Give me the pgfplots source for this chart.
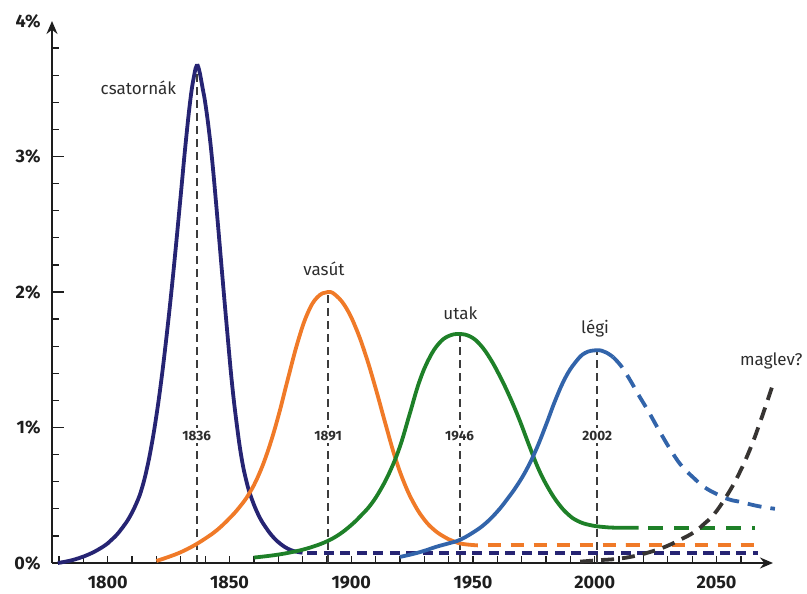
\documentclass[border=0pt]{standalone}
\usepackage{fontspec}
\setmainfont{Fira Sans}
\usepackage{pgfplots}
\pgfplotsset{compat=1.18}
\usetikzlibrary{arrows.meta}

\definecolor{canal}{RGB}{38,36,115}
\definecolor{rail}{RGB}{240,122,40}
\definecolor{road}{RGB}{30,128,40}
\definecolor{air}{RGB}{50,100,170}
\definecolor{mag}{RGB}{55,52,50}
\definecolor{guide}{RGB}{60,60,60}
\definecolor{axisc}{RGB}{30,30,30}
\definecolor{txt}{RGB}{45,45,45}

\begin{document}
\begin{tikzpicture}
\begin{axis}[
  scale only axis, width=721pt, height=542pt,
  xmin=1777.1, xmax=2073.2, ymin=0, ymax=4,
  axis lines=left,
  axis line style={line width=1.6pt, draw=axisc},
  every outer x axis line/.append style={-{Stealth[length=13pt,width=11pt]}},
  every outer y axis line/.append style={-{Stealth[length=13pt,width=11pt]}},
  clip=false,
  tick align=inside,
  major tick length=12pt, minor tick length=7pt,
  tick style={line width=1.3pt, draw=axisc},
  xtick={1800,1850,1900,1950,2000,2050},
  xticklabels={1800,1850,1900,1950,2000,2050},
  minor xtick={1780,1790,1800,1810,1820,1830,1840,1850,1860,1870,1880,1890,1900,1910,1920,1930,1940,1950,1960,1970,1980,1990,2000,2010,2020,2030,2040,2050,2060},
  major x tick style={draw=none},
  ytick={0,1,2,3},
  yticklabels={0\%,1\%,2\%,3\%},
  extra y ticks={4}, extra y tick labels={4\%},
  extra y tick style={major tick length=0pt},
  minor ytick={0.2,0.4,0.6,0.8,1.2,1.4,1.6,1.8,2.2,2.4,2.6,2.8,3.2,3.4,3.6,3.8},
  xticklabel style={font=\fontsize{18}{18}\selectfont\bfseries, text=axisc, yshift=-10pt},
  yticklabel style={font=\fontsize{18}{18}\selectfont\bfseries, text=axisc, xshift=-8pt},
  /pgf/number format/assume math mode=true,
  guide/.style={draw=guide, line width=2pt, dash pattern=on 8pt off 5pt},
  curve/.style={line width=3.8pt, smooth, tension=0.7, line cap=butt},
]
\coordinate (ll) at (rel axis cs:0,0);
\coordinate (ur) at (rel axis cs:1,1);

% guide lines at the peaks
\addplot[guide] coordinates {(1836.5,0) (1836.5,3.66)};
\addplot[guide] coordinates {(1890.5,0) (1890.5,2.00)};
\addplot[guide] coordinates {(1944.5,0) (1944.5,1.69)};
\addplot[guide] coordinates {(2001,0) (2001,1.57)};

% dashed tails
\addplot[curve, canal, dash pattern=on 10pt off 6.5pt] coordinates {(1882,0.074) (2067,0.074)};
\addplot[curve, rail, dash pattern=on 13pt off 10pt] coordinates {(1956,0.13) (2067,0.13)};
\addplot[curve, road, dash pattern=on 15pt off 11pt] coordinates {(2022,0.26) (2066,0.26)};

% canals
\addplot[curve, canal] coordinates {
(1779.5,0.000) (1784,0.015) (1788,0.035) (1792,0.062) (1796,0.098) (1800,0.145)
(1803,0.195) (1806,0.26) (1809,0.34) (1812,0.45) (1814,0.55) (1816,0.69)
(1818,0.87) (1820,1.09) (1822,1.35) (1824,1.65) (1826,1.98) (1828,2.34)
(1830,2.72) (1832,3.10) (1834,3.43) (1835.5,3.60) (1836.5,3.67) (1837.5,3.64)
(1839,3.50) (1840,3.40) (1841.5,3.20) (1843,2.95) (1845,2.55) (1847,2.13)
(1849,1.72) (1851,1.33) (1853,1.02) (1855,0.77) (1857,0.60) (1859,0.48)
(1862,0.35) (1865,0.26) (1868,0.19) (1871,0.14) (1874,0.105) (1877,0.085)
(1880,0.076)};

% railways
\addplot[curve, rail] coordinates {
(1820,0.015) (1825,0.045) (1830,0.08) (1835,0.125) (1840,0.18) (1845,0.245)
(1850,0.33) (1854,0.41) (1858,0.51) (1862,0.65) (1866,0.84) (1870,1.08)
(1874,1.36) (1878,1.63) (1882,1.84) (1886,1.96) (1890.5,2.00) (1894,1.97)
(1898,1.88) (1902,1.73) (1906,1.53) (1910,1.29) (1914,1.03) (1918,0.78)
(1922,0.58) (1926,0.43) (1930,0.32) (1934,0.245) (1938,0.195) (1942,0.16)
(1946,0.14) (1952,0.13)};

% roads
\addplot[curve, road] coordinates {
(1860,0.040) (1865,0.050) (1870,0.062) (1875,0.078) (1880,0.098) (1885,0.125)
(1890,0.16) (1895,0.21) (1900,0.28) (1904,0.35) (1908,0.43) (1912,0.54)
(1916,0.68) (1920,0.86) (1924,1.10) (1928,1.34) (1932,1.51) (1936,1.62)
(1940,1.675) (1944.5,1.69) (1949,1.67) (1953,1.61) (1957,1.51) (1961,1.38)
(1965,1.23) (1969,1.06) (1973,0.87) (1977,0.69) (1981,0.55) (1985,0.44)
(1989,0.36) (1993,0.31) (1998,0.28) (2004,0.265) (2010,0.26) (2018,0.26)};

% air
\addplot[curve, air] coordinates {
(1920,0.045) (1925,0.065) (1930,0.09) (1935,0.12) (1940,0.145) (1944.5,0.17)
(1950,0.225) (1955,0.29) (1960,0.38) (1964,0.47) (1968,0.57) (1972,0.69)
(1976,0.84) (1980,1.02) (1984,1.21) (1988,1.37) (1992,1.48) (1996,1.55)
(2001,1.57) (2004.5,1.555) (2007.5,1.52)};
\addplot[curve, air, dash pattern=on 14pt off 9pt] coordinates {
(2007.5,1.52) (2011,1.45) (2014.5,1.35) (2018,1.24) (2022,1.12) (2027,0.96)
(2032,0.81) (2036,0.71) (2040.5,0.63) (2045,0.56) (2050,0.51) (2055,0.47)
(2060,0.45) (2067,0.42) (2074,0.40)};

% maglev
\addplot[curve, mag, dash pattern=on 13pt off 8pt] coordinates {
(1994,0.01) (2001,0.02) (2009,0.03) (2016,0.05) (2022.5,0.08) (2029,0.12)
(2036,0.18) (2041,0.23) (2045,0.29) (2049,0.36) (2054,0.49) (2059,0.65)
(2064,0.85) (2068.5,1.07) (2073,1.31)};

% year labels on the guides
\tikzset{yr/.style={fill=white, inner sep=2.5pt, text=txt, font=\fontsize{13.5}{13.5}\selectfont\bfseries}}
\node[yr] at (axis cs:1836.5,0.94) {1836};
\node[yr] at (axis cs:1890.5,0.94) {1891};
\node[yr] at (axis cs:1944.5,0.94) {1946};
\node[yr] at (axis cs:2001,0.94) {2002};

% curve names
\tikzset{nm/.style={anchor=base, text=txt, font=\fontsize{17}{17}\selectfont}}
\node[nm] at (axis cs:1812.6,3.46) {csatornák};
\node[nm] at (axis cs:1888.8,2.12) {vasút};
\node[nm] at (axis cs:1944.8,1.80) {utak};
\node[nm] at (axis cs:2000.1,1.69) {légi};
\node[nm, anchor=base west, inner sep=0pt] at (axis cs:2059.6,1.46) {maglev?};
\end{axis}
\pgfresetboundingbox
\path[use as bounding box] ([shift={(-52pt,-31pt)}]ll) rectangle ([shift={(34pt,21pt)}]ur);
\end{tikzpicture}
\end{document}
